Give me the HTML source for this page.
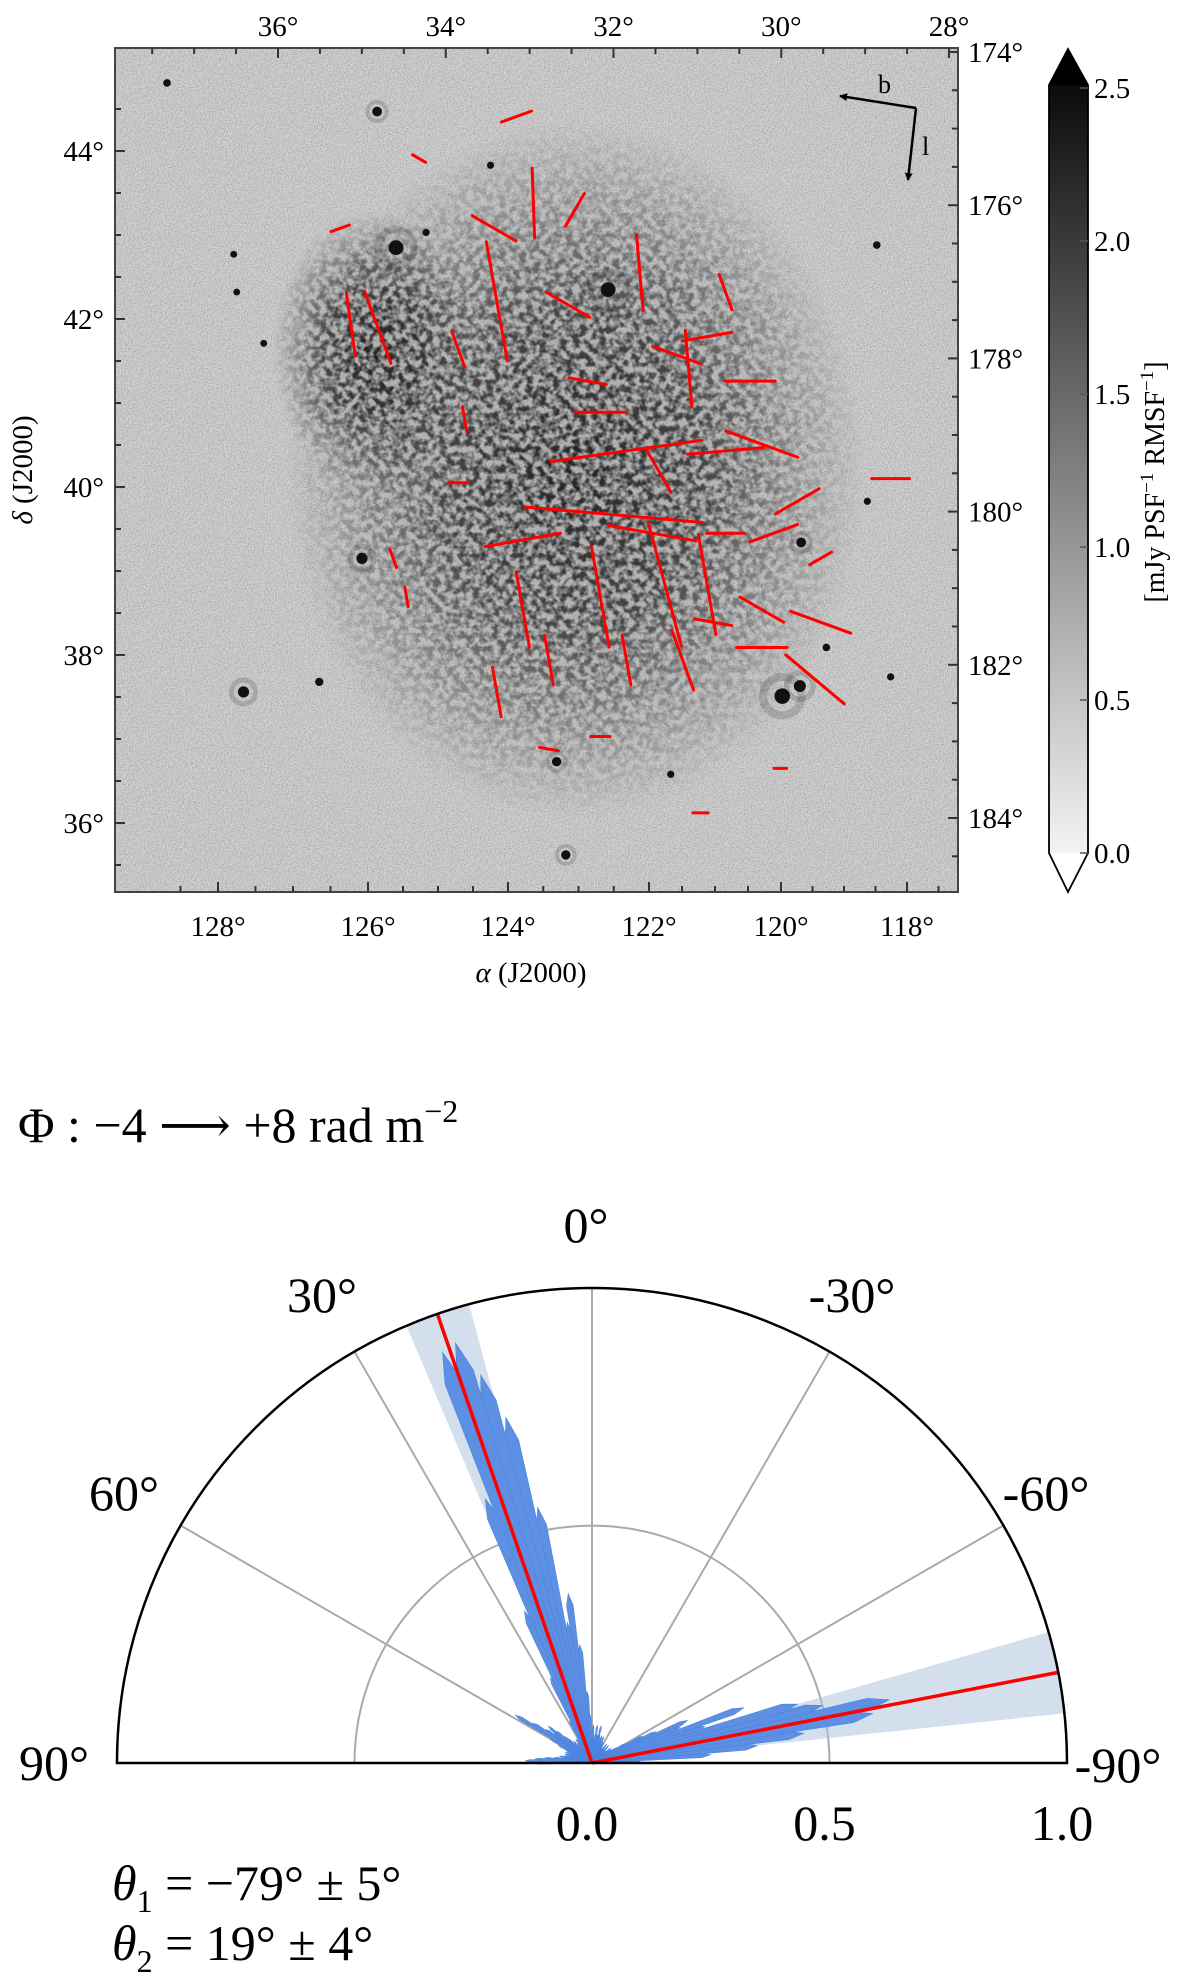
<!DOCTYPE html>
<html><head><meta charset="utf-8">
<style>
html,body{margin:0;padding:0;background:#fff;}
svg{display:block;font-family:"Liberation Serif","DejaVu Serif",serif;}
</style></head>
<body>
<svg id="fig" width="1200" height="1983" viewBox="0 0 1200 1983" xmlns="http://www.w3.org/2000/svg">
<defs>
  <filter id="grain" x="0" y="0" width="100%" height="100%">
    <feTurbulence type="fractalNoise" baseFrequency="0.7" numOctaves="2" seed="3"/>
    <feColorMatrix type="matrix" values="0 0 0 0 0  0 0 0 0 0  0 0 0 0 0  1.4 0 0 0 -0.5"/>
  </filter>
  <filter id="mottle" x="0" y="0" width="100%" height="100%">
    <feTurbulence type="fractalNoise" baseFrequency="0.15" numOctaves="2" seed="7"/>
    <feColorMatrix type="matrix" values="0 0 0 0 0  0 0 0 0 0  0 0 0 0 0  3.2 0 0 0 -1.15"/>
  </filter>
  <radialGradient id="blobG">
    <stop offset="0" stop-color="#fff" stop-opacity="0.95"/>
    <stop offset="0.45" stop-color="#fff" stop-opacity="0.75"/>
    <stop offset="1" stop-color="#fff" stop-opacity="0"/>
  </radialGradient>
  <mask id="blobMask">
    <ellipse cx="575" cy="470" rx="290" ry="350" fill="url(#blobG)"/>
    <ellipse cx="372" cy="350" rx="100" ry="140" fill="url(#blobG)"/>
  </mask>
  <linearGradient id="cbG" x1="0" y1="1" x2="0" y2="0">
    <stop offset="0" stop-color="#ffffff"/>
    <stop offset="1" stop-color="#000000"/>
  </linearGradient>
  <clipPath id="mapClip"><rect x="115" y="48" width="843" height="844"/></clipPath>
  <marker id="arr" markerWidth="8" markerHeight="8" refX="7" refY="4" orient="auto" markerUnits="userSpaceOnUse">
    <path d="M0,0 L8,4 L0,8 Z" fill="#000"/>
  </marker>
</defs>

<g id="map">
  <rect x="115" y="48" width="843" height="844" fill="#d2d2d2"/>
  <rect x="115" y="48" width="843" height="844" filter="url(#grain)" opacity="0.3"/>
  <g mask="url(#blobMask)" clip-path="url(#mapClip)">
    <rect x="115" y="48" width="843" height="844" fill="#000" opacity="0.12"/>
    <rect x="115" y="48" width="843" height="844" filter="url(#mottle)" opacity="0.85"/>
  </g>
  <g id="stars" clip-path="url(#mapClip)"></g>
  <g id="vectors" clip-path="url(#mapClip)"></g>
  <rect x="115" y="48" width="843" height="844" fill="none" stroke="#444" stroke-width="2"/>
  <g id="mapTicks"></g>
  <g>
    <line x1="916" y1="108" x2="840" y2="96" stroke="#000" stroke-width="2.5" marker-end="url(#arr)"/>
    <line x1="916" y1="108" x2="908" y2="180" stroke="#000" stroke-width="2.5" marker-end="url(#arr)"/>
    <text x="878" y="93" font-size="26">b</text>
    <text x="922" y="155" font-size="26">l</text>
  </g>
  <text x="531" y="982" font-size="29" text-anchor="middle"><tspan font-style="italic">α</tspan> (J2000)</text>
  <text transform="translate(32,470) rotate(-90)" font-size="29" text-anchor="middle"><tspan font-style="italic">δ</tspan> (J2000)</text>
</g>

<g id="colorbar">
  <path d="M1049,85 L1068,49 L1088,85 L1088,853 L1068,892 L1049,853 Z" fill="url(#cbG)" stroke="none"/>
  <path d="M1049,85 L1068,49 L1088,85 Z" fill="#000"/>
  <path d="M1049,853 L1068,892 L1088,853 Z" fill="#fff"/>
  <path d="M1049,85 L1068,49 L1088,85 L1088,853 L1068,892 L1049,853 Z" fill="none" stroke="#000" stroke-width="1.8"/>
  <g id="cbTicks"></g>
  <text transform="translate(1164,482) rotate(-90)" font-size="28" text-anchor="middle">[mJy PSF<tspan dy="-11" font-size="19">−1</tspan><tspan dy="11"> RMSF</tspan><tspan dy="-11" font-size="19">−1</tspan><tspan dy="11">]</tspan></text>
</g>

<g id="polar">
  <text x="18" y="1142" font-size="50">Φ : −4 ⟶ +8 rad m<tspan dy="-20" font-size="32">−2</tspan></text>
  <g id="polarGrid"></g>
  <g id="polarShade"></g>
  <g id="polarPetals"></g>
  <g id="polarLines"></g>
  <g id="polarFrame"></g>
  <g id="polarLabels"></g>
  <text x="112" y="1900" font-size="50"><tspan font-style="italic">θ</tspan><tspan dy="12" font-size="32">1</tspan><tspan dy="-12"> = −79° ± 5°</tspan></text>
  <text x="112" y="1960" font-size="50"><tspan font-style="italic">θ</tspan><tspan dy="12" font-size="32">2</tspan><tspan dy="-12"> = 19° ± 4°</tspan></text>
</g>
</svg>

<script>
const NS = "http://www.w3.org/2000/svg";
// ---- Map axis data ----
const raTicks = [128, 126, 124, 122, 120, 118];
const raTickLabels = ["128°", "126°", "124°", "122°", "120°", "118°"];
const decTicks = [44, 42, 40, 38, 36];
const decTickLabels = ["44°", "42°", "40°", "38°", "36°"];
const glonTopTicks = [36, 34, 32, 30, 28];
const glonTopLabels = ["36°", "34°", "32°", "30°", "28°"];
const glatRightTicks = [174, 176, 178, 180, 182, 184];
const glatRightLabels = ["174°", "176°", "178°", "180°", "182°", "184°"];
const cbTicks = [0, 0.5, 1.0, 1.5, 2.0, 2.5];
const cbTickLabels = ["0.0", "0.5", "1.0", "1.5", "2.0", "2.5"];

// polarization vectors: RA, Dec (deg), length (deg), angle (deg, screen)
const vecRA  = [124.16,125.86,126.23,123.64,123.88,124.20,122.32,122.50,121.95,123.79,121.86,120.84,120.29,121.12,121.76,122.69,123.79,120.29,119.74,119.37,119.46,121.40,121.12,120.84,122.13,121.58,123.15,123.05,122.69,120.47,124.16,123.42,120.11,120.84,118.26,124.71,122.32,121.49,125.45,125.64,122.69,121.22,126.37,125.27,122.87,121.03,120.29,123.42,120.01,119.37,124.71,124.62];
const vecDec = [42.21,41.90,41.94,43.38,44.41,43.08,40.43,39.67,39.45,39.37,40.20,40.43,40.51,38.84,38.84,38.69,38.54,38.54,39.83,38.39,37.71,41.41,41.79,42.32,42.55,41.57,42.17,43.30,40.89,41.26,37.56,37.94,39.45,39.45,40.10,40.05,37.94,37.94,38.69,39.15,37.03,36.12,43.08,43.91,41.26,38.39,38.09,36.88,36.65,39.15,41.64,40.81];
const vecLen = [1.44,0.91,0.76,0.83,0.38,0.60,1.81,2.12,1.06,0.91,0.60,0.91,0.91,1.21,1.51,1.21,0.91,0.60,0.60,0.76,0.91,0.91,0.60,0.45,0.91,0.60,0.60,0.45,0.60,0.60,0.60,0.60,0.60,0.45,0.45,0.23,0.60,0.76,0.23,0.23,0.23,0.18,0.23,0.18,0.45,0.45,0.60,0.23,0.15,0.30,0.45,0.30];
const vecAng = [80,70,82,88,-20,30,-8,5,10,-10,60,-5,20,80,75,80,80,30,-30,20,40,85,-10,70,85,20,30,-60,0,0,80,80,-20,0,0,0,80,70,80,70,0,0,-20,30,10,10,0,10,0,-30,70,80];

// bright sources: RA, Dec, size
const starRA  = [125.60,122.58,126.08,127.66,119.98,119.70,123.31,123.18,125.87,128.68,126.65,118.48,119.28,118.26,121.67,127.39,127.75,127.79,124.25,118.63,119.68,125.17];
const starDec = [42.85,42.35,39.15,37.56,37.51,37.63,36.73,35.62,44.47,44.81,37.68,42.88,38.09,37.74,36.58,41.71,42.32,42.77,43.83,39.83,39.34,43.03];
const starSize = [3,3,2,2,3.2,2.2,1.5,1.5,1.6,1,1.2,1,1,0.9,0.9,0.8,0.8,0.8,0.9,0.9,1.6,0.9];

const raX = [[128,218],[126,368],[124,508],[122,649],[120,781],[118,907]];
function xOfRA(ra){
  let i = 0;
  while(i < raX.length-2 && ra < raX[i+1][0]) i++;
  const a=raX[i], b=raX[i+1];
  return a[1]+(ra-a[0])*(b[1]-a[1])/(b[0]-a[0]);
}
function yOfDec(d){ return 151 + (44-d)*84; }
const topX = [[36,278],[28,949]];
function xOfTop(v){ return topX[0][1]+(v-topX[0][0])*(topX[1][1]-topX[0][1])/(topX[1][0]-topX[0][0]); }
function yOfRight(v){ return 52 + (v-174)*(818-52)/10; }
function yOfCb(v){ return 853 - v*(853-88)/2.5; }

function mk(tag, attrs, parent){ const e=document.createElementNS(NS,tag); for(const k in attrs) e.setAttribute(k,attrs[k]); parent.appendChild(e); return e; }

const starsG=document.getElementById('stars');
starRA.forEach((ra,i)=>{
  const cx=xOfRA(ra), cy=yOfDec(starDec[i]), s=starSize[i];
  if(s>1.4){
    const h=mk('circle',{cx:cx,cy:cy,r:s*6,fill:'none',stroke:'#000','stroke-width':s*2.5,opacity:0.15},starsG);
    
    
  }
  const c=mk('circle',{cx:cx,cy:cy,r:2+s*1.8,fill:'#111'},starsG);
  
  
});

const vecG=document.getElementById('vectors');
vecRA.forEach((ra,i)=>{
  const cx=xOfRA(ra), cy=yOfDec(vecDec[i]), L=vecLen[i]*84/2, a=vecAng[i]*Math.PI/180;
  const l=mk('line',{x1:cx-L*Math.cos(a),y1:cy-L*Math.sin(a),x2:cx+L*Math.cos(a),y2:cy+L*Math.sin(a),stroke:'#ff0000','stroke-width':3,'stroke-linecap':'round'},vecG);
  
  
});

const tG=document.getElementById('mapTicks');
function tick(x1,y1,x2,y2){ mk('line',{x1:x1,y1:y1,x2:x2,y2:y2,stroke:'#333','stroke-width':2},tG); }
function label(x,y,txt,anchor,name){ const t=mk('text',{x:x,y:y,'font-size':29,'text-anchor':anchor},tG); t.textContent=txt;   }
raTicks.forEach((v,i)=>{ const x=xOfRA(v); tick(x,892,x,882); label(x,936,raTickLabels[i],'middle','ra-tick-label'); });
for(let v=128.5;v>117;v-=0.5){ if(v%2!==0){ const x=xOfRA(v); if(x>116&&x<957) tick(x,892,x,886); } }
decTicks.forEach((v,i)=>{ const y=yOfDec(v); tick(115,y,125,y); label(104,y+10,decTickLabels[i],'end','dec-tick-label'); });
for(let v=44.5;v>35;v-=0.5){ if(v%2!==0){ const y=yOfDec(v); if(y>50&&y<890) tick(115,y,121,y); } }
glonTopTicks.forEach((v,i)=>{ const x=xOfTop(v); tick(x,48,x,58); label(x,36,glonTopLabels[i],'middle','glon-tick-label'); });
for(let v=37.5;v>27.9;v-=0.5){ if(v%2!==0){ const x=xOfTop(v); if(x>116&&x<957) tick(x,48,x,54); } }
glatRightTicks.forEach((v,i)=>{ const y=yOfRight(v); tick(958,y,948,y); label(968,y+10,glatRightLabels[i],'start','glat-tick-label'); });
for(let v=173.5;v<185;v+=0.5){ if(v%2!==0){ const y=yOfRight(v); if(y>50&&y<890) tick(958,y,952,y); } }

const cbG=document.getElementById('cbTicks');
cbTicks.forEach((v,i)=>{ const y=yOfCb(v);
  mk('line',{x1:1080,y1:y,x2:1088,y2:y,stroke:'#555','stroke-width':1.5},cbG);
  const t=mk('text',{x:1094,y:y+10,'font-size':29},cbG); t.textContent=cbTickLabels[i];
   
});

// ---- Polar data ----
const binAngles = [];
for(let a=-90;a<=90;a+=2) binAngles.push(a);
const binValues = [
  0.08,0.10,0.25,0.35,0.45,0.60,0.64,0.50,0.45,0.25,   // -90..-72
  0.34,0.20,0.22,0.15,0.12,0.08,0.06,0.05,0.04,0.05,   // -70..-52
  0.04,0.03,0.04,0.05,0.03,0.04,0.05,0.04,0.03,0.04,   // -50..-32
  0.05,0.04,0.05,0.06,0.05,0.06,0.05,0.06,0.08,0.06,   // -30..-12
  0.06,0.08,0.05,0.06,0.08,0.05,0.10,0.15,0.25,0.36,   // -10..8
  0.30,0.55,0.75,0.85,0.93,0.92,0.60,0.35,0.20,0.10,   // 10..28
  0.06,0.05,0.06,0.05,0.04,0.06,0.05,0.07,0.08,0.10,   // 30..48
  0.12,0.10,0.12,0.15,0.19,0.10,0.08,0.06,0.05,0.06,   // 50..68
  0.05,0.06,0.05,0.06,0.07,0.06,0.08,0.10,0.12,0.14,   // 70..88
  0.12                                                  // 90
];
const fitAngles = [-79, 19];
const fitErrors = [5, 4];
const radialTicks = [0.0, 0.5, 1.0];
const radialTickLabels = ["0.0", "0.5", "1.0"];
const angleTicks = [90, 60, 30, 0, -30, -60, -90];
const angleTickLabels = ["90°", "60°", "30°", "0°", "-30°", "-60°", "-90°"];

const CX=592, CY=1763, R=475;
function pt(a,r){ const t=a*Math.PI/180; return [CX - r*R*Math.sin(t), CY - r*R*Math.cos(t)]; }

const gG=document.getElementById('polarGrid');
[0.5].forEach(r=>{
  const p1=pt(90,r), p2=pt(-90,r);
  const c=mk('path',{d:`M${p1[0]},${p1[1]} A${r*R},${r*R} 0 0 1 ${p2[0]},${p2[1]}`,fill:'none',stroke:'#aaa','stroke-width':2},gG);
   
});
[60,30,0,-30,-60].forEach(a=>{
  const p=pt(a,1);
  const l=mk('line',{x1:CX,y1:CY,x2:p[0],y2:p[1],stroke:'#aaa','stroke-width':2},gG);
   
});

const sG=document.getElementById('polarShade');
fitAngles.forEach((a,i)=>{
  const e=fitErrors[i], p1=pt(a-e,1), p2=pt(a+e,1);
  const w=mk('path',{d:`M${CX},${CY} L${p1[0]},${p1[1]} A${R},${R} 0 0 0 ${p2[0]},${p2[1]} Z`,fill:'#b0c4de','fill-opacity':0.55},sG);
   
});

const pG=document.getElementById('polarPetals');
binAngles.forEach((a,i)=>{
  const v=binValues[i]; const p1=pt(a-1.2,v*0.93), p2=pt(a+1.2,v*0.93), pm=pt(a,v);
  const w=mk('path',{d:`M${CX},${CY} L${p1[0]},${p1[1]} L${pm[0]},${pm[1]} L${p2[0]},${p2[1]} Z`,fill:'#5d8fe3',stroke:'#4a84dd','stroke-width':0.6},pG);
   
});

const lG=document.getElementById('polarLines');
fitAngles.forEach(a=>{
  const p=pt(a,1);
  const l=mk('line',{x1:CX,y1:CY,x2:p[0],y2:p[1],stroke:'#ff0000','stroke-width':3.5},lG);
   
});

const fG=document.getElementById('polarFrame');
{ const p1=pt(90,1), p2=pt(-90,1);
  const arc=mk('path',{d:`M${p1[0]},${p1[1]} A${R},${R} 0 0 1 ${p2[0]},${p2[1]} Z`,fill:'none',stroke:'#000','stroke-width':2.5},fG);
    }

const labG=document.getElementById('polarLabels');
const angLabelPos = {"90":[54,1780],"60":[124,1510],"30":[322,1312],"0":[586,1242],"-30":[852,1312],"-60":[1046,1510],"-90":[1118,1782]};
angleTicks.forEach((a,i)=>{
  const p=angLabelPos[String(a)];
  const t=mk('text',{x:p[0],y:p[1],'font-size':50,'text-anchor':'middle'},labG); t.textContent=angleTickLabels[i];
   
});
radialTicks.forEach((r,i)=>{
  const x=CX + r*R;
  const t=mk('text',{x:x-5,y:1840,'font-size':50,'text-anchor':'middle'},labG); t.textContent=radialTickLabels[i];
   
});
</script>
</body></html>
